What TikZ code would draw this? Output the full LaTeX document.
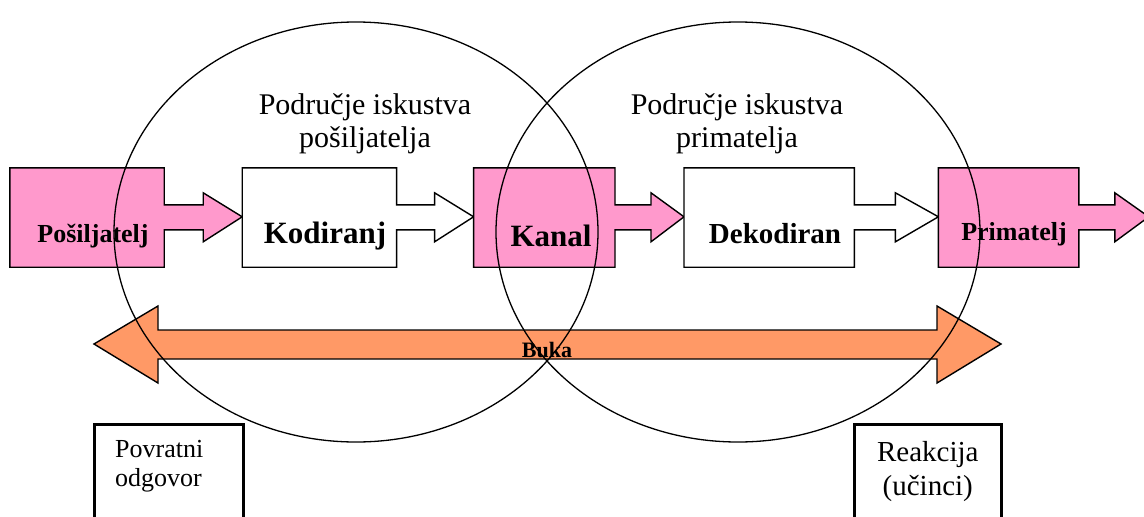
\documentclass[tikz,border=0pt]{standalone}
\usepackage{fontspec}
\setmainfont{Liberation Serif}
\usetikzlibrary{positioning}
\definecolor{msgpink}{RGB}{255,153,204}
\definecolor{noiseorange}{RGB}{255,153,102}
\newcommand{\msgarrow}[4]{%
\draw[#4] (#1.north west) -- (#1.north east) -- ++(0,37) -- ++(#2,0) -- ++(0,-12) -- ++(#3,24) -- ++(-#3,25) -- ++(0,-12) -- ++(-#2,0) -- (#1.south east) -- (#1.south west) -- cycle;}
\tikzset{
  stage/.style={minimum height=99pt,inner sep=0},
  flow/.style={draw,line width=1.4pt,line join=miter},
  word/.style={anchor=base,inner sep=0,font=\bfseries},
  field/.style={line width=1.3pt},
  answerbox/.style={draw,line width=2.5pt,anchor=north west,minimum height=110pt,inner sep=0},
  note/.style={inner sep=0,align=center}
}
\begin{document}
\begin{tikzpicture}[x=1pt,y=-1pt]
\useasboundingbox (0,0) rectangle (1144,517);
\clip (0,0) rectangle (1144,517);
\node[stage,minimum width=154pt] (snd) at (87,217.5) {};
\node[stage,minimum width=154pt,right=78pt of snd] (enc) {};
\node[stage,minimum width=141pt,right=77pt of enc] (chn) {};
\node[stage,minimum width=170pt,right=69pt of chn] (dec) {};
\node[stage,minimum width=140pt,right=84pt of dec] (rcv) {};
\msgarrow{snd}{39}{39}{flow,fill=msgpink}
\msgarrow{enc}{38}{39}{flow,fill=white}
\msgarrow{chn}{36}{33}{flow,fill=msgpink}
\msgarrow{dec}{41}{43}{flow,fill=white}
\msgarrow{rcv}{36}{34}{flow,fill=msgpink}
\node[word,font=\bfseries\fontsize{26}{30}\selectfont] (sndtxt) at (93,242) {Pošiljatelj};
\node[word,font=\bfseries\fontsize{31}{36}\selectfont] (enctxt) at (325,243) {Kodiranj};
\node[word,font=\bfseries\fontsize{31}{36}\selectfont] (chntxt) at (551,246) {Kanal};
\node[word,font=\bfseries\fontsize{29}{34}\selectfont] (dectxt) at (775,243) {Dekodiran};
\node[word,font=\bfseries\fontsize{26}{30}\selectfont] (rcvtxt) at (1014,240) {Primatelj};
\draw[flow,fill=noiseorange] (94,344) -- (158,306) -- (158,330) -- (937,330) -- (937,306) -- (1001,344) -- (937,383) -- (937,359) -- (158,359) -- (158,383) -- cycle;
\node[word,font=\bfseries\fontsize{22}{26}\selectfont] (noise) at (547,357) {Buka};
\node[note,anchor=north,font=\fontsize{30}{33}\selectfont] (sndfield) at (365,93) {Područje iskustva\\pošiljatelja};
\node[note,anchor=north,font=\fontsize{30}{33}\selectfont] (rcvfield) at (737,93) {Područje iskustva\\primatelja};
\node[answerbox,minimum width=149pt] (fb) at (93,423) {};
\node[note,align=left,anchor=north west,font=\fontsize{26}{29}\selectfont] (fbtxt) at ([shift={(22pt,-17pt)}]fb.north west) {Povratni\\odgovor};
\node[answerbox,minimum width=147pt] (fx) at (853,423) {};
\node[note,anchor=north,font=\fontsize{29}{34}\selectfont] (fxtxt) at ([yshift=-18pt]fx.north) {Reakcija\\(učinci)};
\draw[field] (356,232) ellipse [x radius=242,y radius=210];
\draw[field] (738,232) ellipse [x radius=242,y radius=210];
\end{tikzpicture}
\end{document}
